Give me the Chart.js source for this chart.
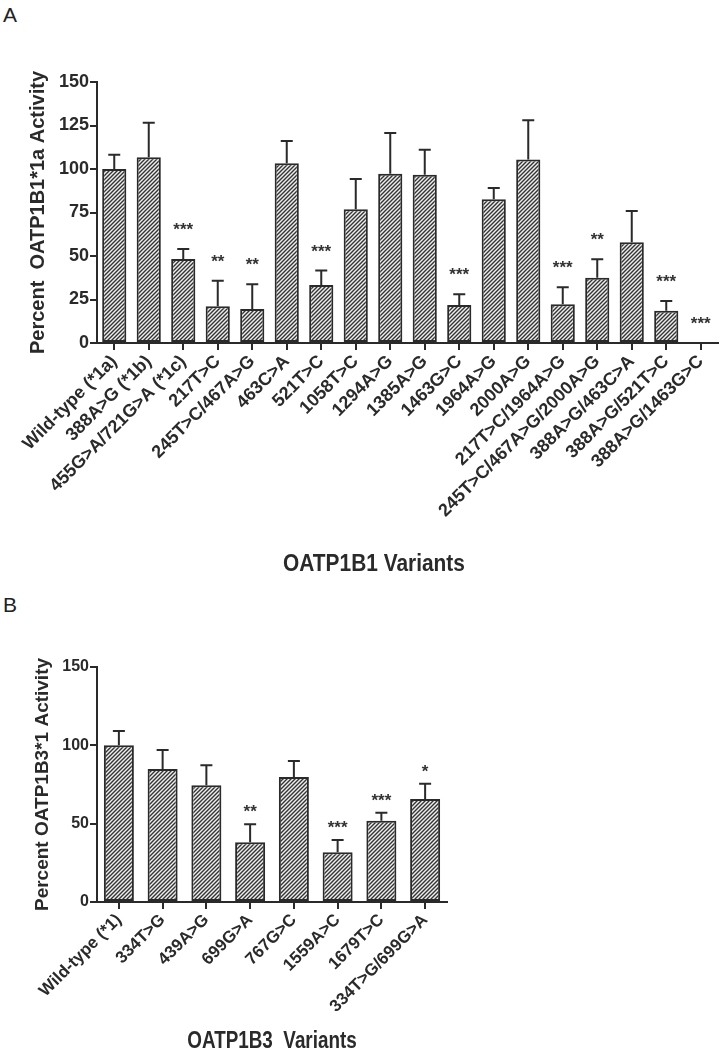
<!DOCTYPE html>
<html><head><meta charset="utf-8">
<script src="https://cdn.jsdelivr.net/npm/chart.js@4.4.1/dist/chart.umd.min.js"></script>
<style>
html,body{margin:0;padding:0;background:#fff;width:721px;height:1049px;overflow:hidden;position:relative}
.wrap{position:absolute;left:0;width:721px}
#wa{top:0;height:590px}
#wb{top:590px;height:459px}
.panel{position:absolute;left:3px;font:21px "Liberation Sans",Arial,sans-serif;color:#222;line-height:24px}
</style></head><body>
<div class="panel" style="top:3px">A</div>
<div class="panel" style="top:593px">B</div>
<div class="wrap" id="wa"><canvas id="ca"></canvas></div>
<div class="wrap" id="wb"><canvas id="cb"></canvas></div>
<script>
// ---- Panel A: OATP1B1 ----
const b1Categories = ['Wild-type (*1a)','388A>G (*1b)','455G>A/721G>A (*1c)','217T>C','245T>C/467A>G','463C>A','521T>C','1058T>C','1294A>G','1385A>G','1463G>C','1964A>G','2000A>G','217T>C/1964A>G','245T>C/467A>G/2000A>G','388A>G/463C>A','388A>G/521T>C','388A>G/1463G>C'];
const b1Mean  = [100,106.7,48.3,21.1,19.5,103.3,33.3,76.8,97.3,96.7,21.8,82.6,105.4,22.2,37.5,57.9,18.6,0];
const b1Upper = [108.2,126.6,54.0,35.8,33.7,116.1,41.6,94.3,120.7,111.1,28.0,89.1,128.0,32.0,48.1,75.9,24.1,0];
const b1Sig   = ['','','***','**','**','','***','','','','***','','','***','**','','***','***'];
const b1Ticks = [0,25,50,75,100,125,150];
// ---- Panel B: OATP1B3 ----
const b3Categories = ['Wild-type (*1)','334T>G','439A>G','699G>A','767G>C','1559A>C','1679T>C','334T>G/699G>A'];
const b3Mean  = [100,84.9,74.5,38.2,79.8,31.8,51.8,65.7];
const b3Upper = [109.2,97.1,87.3,49.7,90.0,39.5,57.0,75.5];
const b3Sig   = ['','','','**','','***','***','*'];
const b3Ticks = [0,50,100,150];

const FAM = '"Liberation Sans", Arial, sans-serif';
const INK = '#2a2a2a';

function hatch(){
  const c=document.createElement('canvas'); c.width=4; c.height=4;
  const g=c.getContext('2d');
  g.fillStyle='#efefef'; g.fillRect(0,0,4,4);
  g.strokeStyle='#333'; g.lineWidth=1.4; g.lineCap='square';
  g.beginPath();
  g.moveTo(0,4); g.lineTo(4,0);
  g.moveTo(-1,1); g.lineTo(1,-1);
  g.moveTo(3,5); g.lineTo(5,3);
  g.stroke();
  return g.createPattern(c,'repeat');
}

function annot(cfg){
  return {
    id:'annot',
    afterDatasetsDraw(chart){
      const ctx=chart.ctx, meta=chart.getDatasetMeta(0), y=chart.scales.y, data=chart.data.datasets[0].data;
      ctx.save();
      ctx.strokeStyle=INK; ctx.lineWidth=2;
      meta.data.forEach((bar,i)=>{
        const top=y.getPixelForValue(data[i]);
        const cap=y.getPixelForValue(cfg.upper[i]);
        if(cfg.upper[i]>data[i]){
          ctx.beginPath();
          ctx.moveTo(bar.x,top); ctx.lineTo(bar.x,cap);
          ctx.moveTo(bar.x-6,cap); ctx.lineTo(bar.x+6,cap);
          ctx.stroke();
        }
        if(cfg.sig[i]){
          ctx.fillStyle='#333';
          ctx.font='bold 17px '+FAM;
          ctx.textAlign='center'; ctx.textBaseline='alphabetic';
          ctx.fillText(cfg.sig[i], bar.x, cap-cfg.starOff);
        }
      });
      ctx.restore();
    },
    afterDraw(chart){
      const ctx=chart.ctx, a=chart.chartArea;
      ctx.save();
      ctx.fillStyle=INK;
      ctx.font='bold '+cfg.yFont+'px '+FAM;
      ctx.textAlign='center'; ctx.textBaseline='middle';
      ctx.translate(cfg.yTitleX,(a.top+a.bottom)/2);
      ctx.rotate(-Math.PI/2);
      ctx.fillText(cfg.yTitle,0,0);
      ctx.restore();
      ctx.save();
      ctx.fillStyle=INK;
      ctx.font='bold '+cfg.xFont+'px '+FAM;
      ctx.textAlign='center'; ctx.textBaseline='middle';
      ctx.translate(cfg.xTitleX,cfg.xTitleY);
      ctx.scale(cfg.xScale,1);
      ctx.fillText(cfg.xTitle,0,0);
      ctx.restore();
    }
  };
}

function makeChart(id,cats,mean,ticks,opt){
  return new Chart(document.getElementById(id),{
    type:'bar',
    data:{labels:cats,datasets:[{data:mean,backgroundColor:hatch(),borderColor:INK,borderWidth:2,
      barPercentage:opt.barPct,categoryPercentage:1.0,borderSkipped:false}]},
    options:{
      responsive:true, maintainAspectRatio:false, animation:false, devicePixelRatio:1,
      layout:{padding:{left:0,right:opt.padRight,top:opt.padTop,bottom:0}},
      plugins:{legend:{display:false},tooltip:{enabled:false}},
      scales:{
        x:{offset:true,
           grid:{display:true,drawOnChartArea:false,offset:false,tickLength:7,color:INK,lineWidth:2},
           border:{display:true,color:INK,width:2},
           ticks:{autoSkip:false,maxRotation:45,minRotation:45,color:INK,padding:1,
                  font:{family:FAM,size:opt.xTickFont,weight:'bold'}},
           afterFit(s){s.height=opt.xHeight;}},
        y:{min:0,max:150,
           afterBuildTicks(s){s.ticks=ticks.map(v=>({value:v}));},
           grid:{display:true,drawOnChartArea:false,tickLength:7,color:INK,lineWidth:2},
           border:{display:true,color:INK,width:2},
           ticks:{color:INK,padding:1,font:{family:FAM,size:opt.yTickFont,weight:'bold'}},
           afterFit(s){s.width=97;}}
      }
    },
    plugins:[annot(opt.annot)]
  });
}

makeChart('ca',b1Categories,b1Mean,b1Ticks,{
  barPct:0.7,padRight:3,padTop:82,xHeight:247,xTickFont:18,yTickFont:18,
  annot:{upper:b1Upper,sig:b1Sig,starOff:14,yTitle:'Percent  OATP1B1*1a Activity',yTitleX:38,yFont:20,
         xTitle:'OATP1B1 Variants',xTitleX:374,xTitleY:564,xFont:24,xScale:0.87}
});
makeChart('cb',b3Categories,b3Mean,b3Ticks,{
  barPct:0.686,padRight:274,padTop:77,xHeight:147,xTickFont:17,yTickFont:16,
  annot:{upper:b3Upper,sig:b3Sig,starOff:7,yTitle:'Percent OATP1B3*1 Activity',yTitleX:43,yFont:19,
         xTitle:'OATP1B3  Variants',xTitleX:272,xTitleY:452,xFont:23,xScale:0.82}
});
</script>
</body></html>
